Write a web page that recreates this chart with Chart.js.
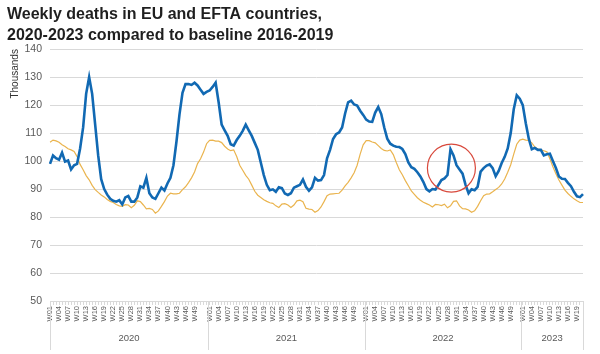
<!DOCTYPE html>
<html>
<head>
<meta charset="utf-8">
<script src="https://cdn.jsdelivr.net/npm/chart.js@4/dist/chart.umd.min.js"></script>
<style>
  html, body { margin: 0; padding: 0; background: #fff; }
  #wrap { width: 600px; height: 354px; }
</style>
</head>
<body>
<div id="wrap"><canvas id="chart" width="600" height="354"></canvas></div>
<script>
// years and how many weeks of each are shown
const years = ['2020', '2021', '2022', '2023'];
const weeksPerYear = [53, 52, 52, 21];

// weekly deaths, thousands (2020 W01 .. 2023 W21)
const deaths = [
  99, 102, 101, 100.5, 103, 99.8, 100.2, 97, 98.5, 99,
  104.5, 112, 124, 130, 124, 113, 102, 93.5, 90, 88,
  86.5, 85.8, 85.5, 86, 84.5, 87, 87.5, 85.5, 85.5, 87,
  91, 90.5, 94, 88.5, 87, 86.5, 88.5, 90.5, 89.5, 92,
  94, 98.5, 107, 116.7, 124.4, 127.5, 127.5, 127.2, 128, 127,
  125.5, 124, 124.7,
  125.2, 126.5, 128, 121, 113, 111, 109, 106, 105.5, 107.5,
  109, 110.8, 113, 111, 109, 106.5, 104, 99.5, 95, 91.5,
  89.6, 89.9, 89, 90.6, 90.3, 88.4, 87.9, 88.5, 90.5, 91,
  91.5, 93.4, 90.8, 89.4, 90.6, 94, 93, 93.2, 95, 101,
  104, 107.9, 109.6, 110.2, 112, 117, 121, 121.6, 120.2, 119.8,
  118, 116.5,
  114.8, 114.1, 114, 117.3, 119.3, 116.8, 112, 108, 106.2, 105.5,
  105.1, 105, 104.3, 102.5, 99.5, 97.8, 97.2, 96, 94.5, 92.5,
  90, 89.2, 90, 89.8, 91.5, 93.2, 93.8, 95, 104.2, 102,
  98.5, 97, 95.5, 91.5, 88.5, 89.9, 89.6, 90.8, 96.2, 97.5,
  98.4, 98.8, 97.5, 94.6, 96.5, 99.3, 101.5, 104.5, 110, 118.5,
  123.5, 122.3,
  120, 113.5, 108, 104.2, 104.7, 104, 104, 102, 102.4, 102.6,
  100, 97.5, 94.5, 93.7, 93.6, 92.2, 91, 89, 87.4, 87.1,
  88.2
];

// baseline 2016-2019 average, thousands
const baseline = [
  106.7, 107.5, 107.2, 106.7, 105.8, 105.2, 104.4, 104, 103.4, 101.6,
  98.8, 96.9, 94.8, 93.3, 91.3, 89.8, 88.8, 87.9, 87.2, 86.3,
  85.6, 85.2, 84.5, 84, 83.8, 84.4, 84.3, 83.3, 84.2, 85.8,
  85.5, 84.3, 82.9, 83.1, 82.7, 81.4, 82.2, 83.8, 85.5, 87.5,
  88.5, 88.3, 88.3, 88.5, 89.8, 90.8, 92.3, 94, 96.1, 99.1,
  100.8, 103.2, 106.2,
  107.4, 107.5, 107.1, 107.1, 106.6, 105.3, 104.3, 103.7, 104, 101.6,
  98.5, 96.7, 94.9, 93.5, 91.4, 89.2, 87.8, 87, 86.2, 85.6,
  85.1, 84.9, 84, 83.4, 84.6, 84.8, 84.3, 83.4, 84.3, 85.8,
  86, 85.5, 83.1, 82.8, 82.7, 81.7, 82.3, 83.6, 85.5, 87.6,
  88.2, 88.3, 88.4, 88.5, 89.6, 91.1, 92.4, 94, 95.8, 98.5,
  102.5, 105.8,
  107.3, 107.3, 106.8, 106.5, 105.5, 104.5, 103.8, 103.6, 104, 102.3,
  99.5, 96.9, 95.1, 93, 91.2, 89.3, 88.1, 86.9, 86, 85.3,
  84.8, 84.3, 83.6, 84.5, 84.4, 84.1, 84.6, 83.3, 84, 85.6,
  85.8, 84, 83, 82.9, 82.5, 81.7, 82.2, 83.8, 85.8, 87.6,
  88.2, 88.3, 89, 89.8, 90.6, 91.8, 93.6, 96, 98.7, 102.5,
  106, 107.5,
  107.8, 107.5, 107.4, 106.5, 105, 104.3, 104, 103.7, 103.3, 100.8,
  98, 95.5, 93.2, 91.4, 89.6, 88.4, 87.4, 86.5, 85.8, 85.2,
  85.2
];

// highlighted peak (week index, value in thousands)
const circleAt = { week: 133.3, value: 97.5 };

const weekLabels = [];
const yearStart = [];
years.forEach((y, i) => {
  yearStart.push(weekLabels.length);
  for (let w = 1; w <= weeksPerYear[i]; w++) {
    weekLabels.push('W' + String(w).padStart(2, '0'));
  }
});

const textGrey = '#595959';
const lineGrey = '#d9d9d9';

const yearAxis = {
  id: 'yearAxis',
  afterDraw(chart) {
    const ctx = chart.ctx;
    const x = chart.scales.x;
    const area = chart.chartArea;
    ctx.save();
    ctx.strokeStyle = lineGrey;
    ctx.lineWidth = 1;
    ctx.fillStyle = textGrey;
    ctx.font = '9.5px "Liberation Sans", Arial, sans-serif';
    ctx.textAlign = 'center';
    ctx.textBaseline = 'middle';
    years.forEach((y, i) => {
      const s = yearStart[i];
      const e = s + weeksPerYear[i] - 1;
      const left = Math.max(area.left, x.getPixelForValue(s - 0.5));
      const right = Math.min(area.right, x.getPixelForValue(e + 0.5));
      const lx = Math.round(left) + 0.5;
      ctx.beginPath();
      ctx.moveTo(lx, area.bottom);
      ctx.lineTo(lx, area.bottom + 49);
      ctx.stroke();
      if (i === years.length - 1) {
        const rx = Math.round(right) + 0.5;
        ctx.beginPath();
        ctx.moveTo(rx, area.bottom);
        ctx.lineTo(rx, area.bottom + 49);
        ctx.stroke();
      }
      ctx.fillText(y, (left + right) / 2, area.bottom + 37);
    });
    ctx.restore();
  }
};

const peakCircle = {
  id: 'peakCircle',
  afterDatasetsDraw(chart) {
    const ctx = chart.ctx;
    const cx = chart.scales.x.getPixelForValue(circleAt.week);
    const cy = chart.scales.y.getPixelForValue(circleAt.value);
    ctx.save();
    ctx.strokeStyle = '#d8493c';
    ctx.lineWidth = 1.2;
    ctx.beginPath();
    ctx.arc(cx, cy, 24, 0, Math.PI * 2);
    ctx.stroke();
    ctx.restore();
  }
};

Chart.defaults.font.family = '"Liberation Sans", Arial, sans-serif';
Chart.defaults.color = textGrey;

new Chart(document.getElementById('chart'), {
  type: 'line',
  data: {
    labels: weekLabels,
    datasets: [
      {
        label: 'Deaths',
        data: deaths,
        borderColor: '#1169b3',
        borderWidth: 2.6,
        pointRadius: 0,
        tension: 0
      },
      {
        label: 'Baseline 2016-2019',
        data: baseline,
        borderColor: '#eab44e',
        borderWidth: 1.2,
        pointRadius: 0,
        tension: 0
      }
    ]
  },
  options: {
    responsive: false,
    animation: false,
    layout: { padding: { left: 7, right: 17, top: 0, bottom: 0 } },
    plugins: {
      legend: { display: false },
      tooltip: { enabled: false },
      title: {
        display: true,
        align: 'start',
        text: ['Weekly deaths in EU and EFTA countries,', '2020-2023 compared to baseline 2016-2019'],
        color: '#1f1f1f',
        font: { size: 16, weight: 'bold', lineHeight: 1.3 },
        padding: { top: 4, bottom: 3.5 }
      }
    },
    scales: {
      x: {
        afterFit(s) { s.height = 53; },
        grid: { drawOnChartArea: false, color: lineGrey, tickLength: 4 },
        border: { display: false },
        ticks: {
          autoSkip: false,
          minRotation: 90,
          maxRotation: 90,
          padding: 1,
          font: { size: 7.5 },
          color: textGrey,
          callback(v, i) {
            const w = parseInt(weekLabels[i].slice(1), 10);
            return (w - 1) % 3 === 0 && w <= 49 ? weekLabels[i] : '';
          }
        }
      },
      y: {
        min: 50,
        max: 140,
        afterFit(s) { s.width = 43; },
        grid: { color: lineGrey, drawTicks: false },
        border: { display: false },
        ticks: { stepSize: 10, padding: 8, font: { size: 10.5 }, color: textGrey },
        title: {
          display: true,
          text: 'Thousands',
          align: 'end',
          color: '#333',
          font: { size: 10 },
          padding: { top: 2, bottom: 0 }
        }
      }
    }
  },
  plugins: [yearAxis, peakCircle]
});
</script>
</body>
</html>
